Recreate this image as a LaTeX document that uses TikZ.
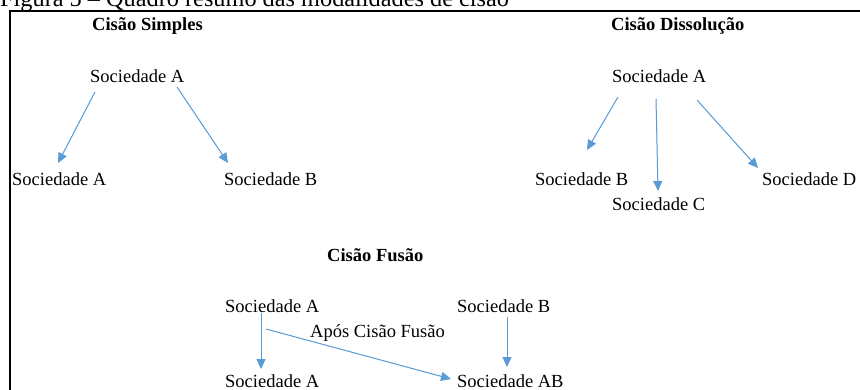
\documentclass[tikz,border=0pt]{standalone}
\usepackage{fontspec}
\setmainfont{Liberation Serif}
\usetikzlibrary{arrows.meta}
\definecolor{arrblue}{HTML}{5B9BD5}
\begin{document}
\begin{tikzpicture}[x=1pt,y=-1pt,
  lbl/.style={inner sep=0pt,anchor=base west,font=\fontsize{18.5}{22}\selectfont},
  ttl/.style={inner sep=0pt,anchor=base west,font=\fontsize{18.5}{22}\selectfont\bfseries},
  arr/.style={draw=arrblue,line width=1pt,-{Triangle[length=10pt,width=9pt]},fill=arrblue}]
\useasboundingbox (0,0) rectangle (860,389);
% caption (cut off at top)
\node[inner sep=0pt,anchor=base west,font=\fontsize{24.3}{28}\selectfont] (cap) at (0,6) {Figura 5 – Quadro resumo das modalidades de cisão};
% frame
\draw[line width=2pt] (10,400) -- (10,11) -- (870,11);
% Cisão Simples
\node[ttl] (t1) at (92,30) {Cisão Simples};
\node[lbl] (s1a) at (90,82) {Sociedade A};
\node[lbl] (s1b) at (12,185) {Sociedade A};
\node[lbl] (s1c) at (224,185) {Sociedade B};
\coordinate (p1) at (95,92);  \coordinate (q1) at (58,163);
\coordinate (p2) at (177,87); \coordinate (q2) at (228,163);
\draw[arr] (p1) -- (q1);
\draw[arr] (p2) -- (q2);
% Cisão Dissolução
\node[ttl] (t2) at (611,30) {Cisão Dissolução};
\node[lbl] (s2a) at (612,82) {Sociedade A};
\node[lbl] (s2b) at (535,185) {Sociedade B};
\node[lbl] (s2c) at (612,210) {Sociedade C};
\node[lbl] (s2d) at (762,185) {Sociedade D};
\coordinate (p3) at (618,97);  \coordinate (q3) at (587,150);
\coordinate (p4) at (656,99);  \coordinate (q4) at (658,191);
\coordinate (p5) at (697,100); \coordinate (q5) at (758,168);
\draw[arr] (p3) -- (q3);
\draw[arr] (p4) -- (q4);
\draw[arr] (p5) -- (q5);
% Cisão Fusão
\node[ttl] (t3) at (327,261) {Cisão Fusão};
\node[lbl] (s3a) at (225,312) {Sociedade A};
\node[lbl] (s3b) at (457,312) {Sociedade B};
\node[lbl] (s3l) at (310,337) {Após Cisão Fusão};
\node[lbl] (s3c) at (225,387) {Sociedade A};
\node[lbl] (s3d) at (457,387) {Sociedade AB};
\coordinate (p6) at (261,313); \coordinate (q6) at (261,369);
\coordinate (p7) at (266,329); \coordinate (q7) at (451,379);
\coordinate (p8) at (507,317); \coordinate (q8) at (507,367);
\draw[arr] (p6) -- (q6);
\draw[arr] (p7) -- (q7);
\draw[arr] (p8) -- (q8);
\end{tikzpicture}
\end{document}
